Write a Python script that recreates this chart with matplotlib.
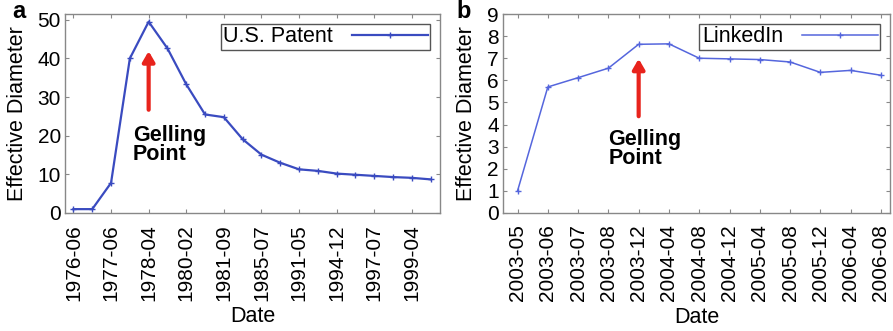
import matplotlib
matplotlib.use("Agg")
import matplotlib.pyplot as plt

plt.rcParams['font.family'] = ['Liberation Sans', 'DejaVu Sans']

# panel a: U.S. Patent
patent_dates = ["1976-06", "", "1977-06", "", "1978-04", "", "1980-02", "", "1981-09", "",
                "1985-07", "", "1991-05", "", "1994-12", "", "1997-07", "", "1999-04", ""]
patent_diam = [1.0, 1.0, 7.8, 40.0, 49.5, 42.6, 33.3, 25.5, 24.8, 19.1,
               15.1, 13.0, 11.3, 10.9, 10.2, 9.9, 9.6, 9.3, 9.1, 8.7]

# panel b: LinkedIn
linkedin_dates = ["2003-05", "2003-06", "2003-07", "2003-08", "2003-12", "2004-04", "2004-08",
                  "2004-12", "2005-04", "2005-08", "2005-12", "2006-04", "2006-08"]
linkedin_diam = [1.0, 5.7, 6.12, 6.55, 7.63, 7.65, 7.0, 6.97, 6.94, 6.83, 6.36, 6.45, 6.23]

fig = plt.figure(figsize=(8.93, 3.31), dpi=100)
ax1 = fig.add_axes([65 / 893, 1 - 213 / 331, 375 / 893, 199 / 331])
ax2 = fig.add_axes([503 / 893, 1 - 213 / 331, 387 / 893, 199 / 331])

frame_col = "#888888"


def style(ax):
    for s in ax.spines.values():
        s.set_color(frame_col)
        s.set_linewidth(1.0)
    ax.tick_params(direction="in", top=True, right=True, length=3, color=frame_col,
                   labelsize=15, pad=3)
    ax.tick_params(axis="x", labelrotation=90, pad=8)


def add_legend(ax):
    leg = ax.legend(loc="upper right", fontsize=15.5, markerfirst=False, fancybox=False,
                    edgecolor="#555555", framealpha=1, handlelength=3.5,
                    borderaxespad=0.45, borderpad=0.12, handletextpad=0.9)
    leg.get_frame().set_linewidth(1.0)


# --- panel a
idx = list(range(len(patent_diam)))
ax1.plot(idx, patent_diam, color="#3a4bc0", lw=1.6, marker="+", ms=4, mew=1,
         label="U.S. Patent")
ax1.set_xticks([i for i, d in enumerate(patent_dates) if d])
ax1.set_xticklabels([d for d in patent_dates if d])
ax1.set_xlim(-0.45, 19.5)
ax1.set_ylim(0, 51.5)
ax1.set_yticks([0, 10, 20, 30, 40, 50])
style(ax1)
ax1.set_ylabel("Effective Diameter", fontsize=15.5, labelpad=7)
ax1.set_xlabel("Date", fontsize=15.5, labelpad=4)
add_legend(ax1)
ax1.annotate("", xy=(4, 42.6), xytext=(4, 26),
             arrowprops=dict(arrowstyle="-|>,head_width=0.35,head_length=0.6",
                             color="#e8231c", lw=3))
ax1.text(3.15, 22.8, "Gelling\nPoint", fontsize=15.5, fontweight="bold",
         ha="left", va="top", linespacing=0.9)
fig.text(12 / 893, 1 - 12 / 331, "a", fontsize=17, fontweight="bold", ha="left", va="center")

# --- panel b
idx2 = list(range(len(linkedin_diam)))
ax2.plot(idx2, linkedin_diam, color="#5566dd", lw=1.1, marker="+", ms=4, mew=1,
         label="LinkedIn")
ax2.set_xticks(idx2)
ax2.set_xticklabels(linkedin_dates)
ax2.set_xlim(-0.48, 12.3)
ax2.set_ylim(0, 9)
ax2.set_yticks(range(10))
style(ax2)
ax2.set_ylabel("Effective Diameter", fontsize=15.5, labelpad=7)
ax2.set_xlabel("Date", fontsize=15.5, labelpad=4)
add_legend(ax2)
ax2.annotate("", xy=(4, 7.1), xytext=(4, 4.25),
             arrowprops=dict(arrowstyle="-|>,head_width=0.35,head_length=0.6",
                             color="#e8231c", lw=3))
ax2.text(3.0, 3.8, "Gelling\nPoint", fontsize=15.5, fontweight="bold",
         ha="left", va="top", linespacing=0.9)
fig.text(456 / 893, 1 - 12 / 331, "b", fontsize=17, fontweight="bold", ha="left", va="center")

fig.savefig("out.png", dpi=100)
